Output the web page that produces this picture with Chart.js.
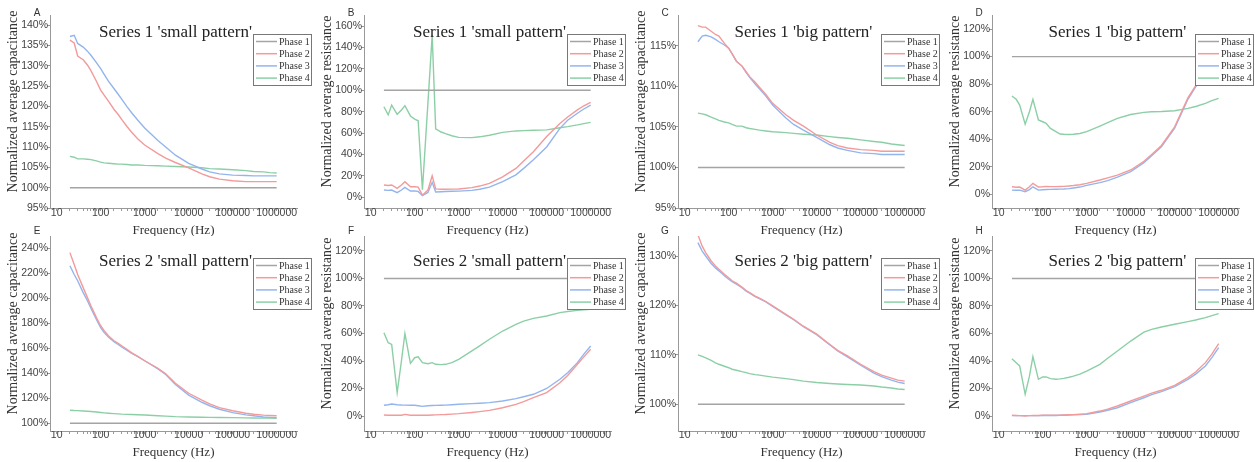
<!DOCTYPE html>
<html>
<head>
<meta charset="utf-8">
<script src="https://cdn.jsdelivr.net/npm/chart.js@4.4.1/dist/chart.umd.min.js"></script>
<style>
  body { margin: 0; background: #fff; width: 1255px; height: 462px; overflow: hidden; position: relative; }
  canvas { position: absolute; }
</style>
</head>
<body>
<canvas id="cA" width="314" height="236" style="left:0;top:0"></canvas>
<canvas id="cB" width="314" height="236" style="left:314px;top:0"></canvas>
<canvas id="cC" width="314" height="236" style="left:628px;top:0"></canvas>
<canvas id="cD" width="313" height="236" style="left:942px;top:0"></canvas>
<canvas id="cE" width="314" height="236" style="left:0;top:226px"></canvas>
<canvas id="cF" width="314" height="236" style="left:314px;top:226px"></canvas>
<canvas id="cG" width="314" height="236" style="left:628px;top:226px"></canvas>
<canvas id="cH" width="313" height="236" style="left:942px;top:226px"></canvas>
<script>
// frequencies of the sweep (Hz)
const freq = [20, 25, 30, 40, 50, 60, 80, 100, 120, 150, 200, 250, 300, 400, 500, 700,
  1000, 2000, 3000, 5000, 10000, 20000, 30000, 50000, 100000, 200000, 300000, 500000, 700000, 1000000];
const xTicks = [10, 100, 1000, 10000, 100000, 1000000];
const phaseNames = ["Phase 1", "Phase 2", "Phase 3", "Phase 4"];
const phaseColors = ["#a4a4a4", "#f39a9a", "#93b5ee", "#8ccfa6"];

// phase 1 is the reference (100 %)
const phase1 = [100, 100, 100, 100, 100, 100, 100, 100, 100, 100, 100, 100, 100, 100, 100,
  100, 100, 100, 100, 100, 100, 100, 100, 100, 100, 100, 100, 100, 100, 100];

// A - series 1 small pattern, capacitance
const a2 = [136.3, 135.6, 132.4, 131.5, 130.2, 128.8, 126.2, 124.0, 122.8, 121.3, 119.3, 118.0, 116.8, 115.0, 113.7,
  112.0, 110.5, 108.4, 107.3, 106.2, 104.9, 103.4, 102.7, 102.1, 101.7, 101.5, 101.5, 101.5, 101.5, 101.5];
const a3 = [137.2, 137.5, 135.5, 134.6, 133.6, 132.6, 130.8, 129.3, 127.9, 126.2, 124.4, 123.0, 121.8, 119.9, 118.5,
  116.6, 114.7, 111.6, 110.0, 108.0, 106.0, 104.6, 103.9, 103.4, 103.1, 103.0, 102.9, 102.9, 102.9, 102.9];
const a4 = [107.7, 107.5, 107.1, 107.1, 107.0, 106.9, 106.6, 106.3, 106.1, 106.0, 105.9, 105.8, 105.8, 105.7, 105.6,
  105.6, 105.5, 105.4, 105.3, 105.2, 105.1, 104.9, 104.7, 104.6, 104.4, 104.2, 104.0, 103.9, 103.7, 103.6];
// B - series 1 small pattern, resistance
const b2 = [11.5, 11, 11.5, 8.4, 11.5, 14.6, 9.9, 9.9, 9.5, 2, 6.8, 20, 7.8, 7.5, 7.5,
  7.6, 7.8, 9, 10.5, 13, 19, 27, 34, 42.6, 56.7, 69, 75, 81.6, 85.5, 88.7];
const b3 = [6.8, 6.5, 6.8, 4.3, 6.8, 9.3, 5.9, 5.9, 5.5, 1.5, 4.5, 14, 5, 5.2, 5.4,
  5.6, 5.8, 6.5, 7.5, 9.5, 14.6, 21, 27, 35, 47, 64.4, 72, 78.5, 82.5, 86];
const b4 = [84.6, 77, 86.2, 77.5, 81.5, 85.6, 76, 73, 71.5, 7, 88, 151.5, 64, 61, 59.5,
  57.5, 56, 55.7, 56.5, 58, 60.7, 62, 62.3, 62.6, 63, 65, 66, 67.6, 68.8, 70];
// C - series 1 big pattern, capacitance
const c2 = [117.5, 117.3, 117.3, 116.8, 116.4, 116.2, 115.3, 114.7, 114.0, 113.1, 112.5, 111.8, 111.2, 110.5, 109.9,
  109.0, 107.9, 106.5, 105.8, 105.1, 104.0, 103.1, 102.7, 102.4, 102.2, 102.1, 102.0, 102.0, 102.0, 102.0];
const c3 = [115.5, 116.2, 116.3, 116.1, 115.8, 115.5, 115.1, 114.7, 114.0, 113.1, 112.5, 111.7, 111.1, 110.3, 109.7,
  108.8, 107.7, 106.1, 105.3, 104.6, 103.7, 102.8, 102.4, 102.1, 101.8, 101.7, 101.6, 101.6, 101.6, 101.6];
const c4 = [106.7, 106.6, 106.5, 106.2, 106.0, 105.8, 105.6, 105.5, 105.3, 105.1, 105.1, 104.9, 104.8, 104.7, 104.6,
  104.5, 104.4, 104.3, 104.2, 104.1, 104.0, 103.8, 103.7, 103.6, 103.4, 103.2, 103.1, 102.9, 102.8, 102.7];
// D - series 1 big pattern, resistance
const d2 = [5.5, 5.2, 5.3, 3.1, 5.5, 8, 5.3, 5.5, 5.8, 5.6, 5.6, 5.7, 5.8, 6.1, 6.4,
  7.0, 8.0, 10.4, 12, 14, 17.7, 24, 29, 35.5, 49, 70, 79, 88, 92, 95];
const d3 = [3.1, 3, 3.1, 1.9, 3.5, 5.5, 3.1, 3.3, 3.5, 3.6, 3.7, 3.8, 3.9, 4.2, 4.6,
  5.3, 6.5, 8.5, 10, 12.5, 16.5, 23, 28, 34.5, 48, 69, 78, 87, 91, 94];
const d4 = [71.4, 69, 64.8, 51, 60, 69, 54, 52.7, 51.5, 47.9, 45.5, 43.8, 43.6, 43.5, 43.6,
  44.2, 45.5, 49.6, 52, 55.2, 58, 59.5, 60, 60.2, 60.7, 62.4, 63.8, 66, 68, 69.7];
// E - series 2 small pattern, capacitance
const e2 = [236.5, 227, 219, 208.5, 200.5, 194, 184.5, 178, 174, 170, 166, 164, 162, 159, 156.5,
  153.5, 150, 144, 139.5, 132, 124, 118.5, 115.5, 112.5, 110, 108, 107.2, 106.5, 106.2, 106];
const e3 = [226, 219, 214, 204.5, 198, 192, 183, 176.5, 172.5, 169, 165.3, 163, 161, 158.3, 156,
  153.2, 150, 143.5, 139, 131, 122.5, 116.8, 114, 111.2, 108.5, 106.7, 106, 105, 104.7, 104.5];
const e4 = [110.4, 110.2, 110.1, 109.8, 109.6, 109.4, 109, 108.6, 108.3, 108.0, 107.7, 107.5, 107.3, 107.1, 107,
  106.8, 106.6, 106, 105.7, 105.3, 105, 104.8, 104.7, 104.6, 104.5, 104.3, 104.2, 104.1, 104.1, 104];
// F - series 2 small pattern, resistance
const f2 = [0.7, 0.6, 0.6, 0.5, 0.6, 1.2, 0.6, 0.5, 0.5, 0.5, 0.6, 0.7, 0.8, 1.0, 1.1,
  1.4, 1.7, 2.6, 3.2, 4.1, 6, 8.5, 10.5, 13.3, 17, 24.2, 29.5, 37.6, 43, 48.5];
const f3 = [7.8, 8.2, 8.7, 8.2, 8, 7.9, 7.8, 7.8, 7.5, 7, 7.5, 7.6, 7.7, 7.8, 7.9,
  8.2, 8.5, 9, 9.3, 9.7, 10.9, 12.6, 14, 15.8, 20, 26.7, 31.5, 38.8, 45, 50.9];
const f4 = [60.6, 53.3, 52, 17, 40, 60, 38.3, 42.4, 43, 38.8, 38, 38.8, 37.6, 37.4, 37.6,
  38.8, 41.2, 47.3, 51, 55.8, 61.8, 66.7, 69, 71, 72.7, 75.2, 76, 76.8, 77.2, 77.6];
// G - series 2 big pattern, capacitance
const g2 = [134.3, 132, 130.7, 129, 128, 127.3, 126.3, 125.6, 125, 124.5, 123.7, 123, 122.6, 121.9, 121.5,
  120.8, 119.9, 118.2, 117.2, 115.8, 114.2, 112.1, 110.9, 109.8, 108.1, 106.6, 105.9, 105.3, 104.9, 104.7];
const g3 = [132.7, 131, 130, 128.5, 127.6, 127, 126, 125.3, 124.8, 124.3, 123.6, 122.9, 122.5, 121.8, 121.4,
  120.7, 119.8, 118.1, 117.1, 115.7, 114.1, 112, 110.8, 109.6, 107.9, 106.3, 105.6, 104.9, 104.5, 104.2];
const g4 = [110, 109.7, 109.4, 108.9, 108.4, 108.1, 107.7, 107.4, 107.1, 106.9, 106.6, 106.4, 106.2, 106.0, 105.9,
  105.7, 105.5, 105.2, 105.0, 104.7, 104.4, 104.2, 104.1, 104.0, 103.9, 103.7, 103.5, 103.3, 103.1, 103.0];
// H - series 2 big pattern, resistance
const h2 = [0.5, 0.4, 0.3, 0, 0.3, 0.4, 0.4, 0.5, 0.5, 0.5, 0.6, 0.6, 0.7, 0.9, 1,
  1.3, 1.7, 3.6, 5, 7.3, 10.9, 14.5, 16.7, 18.7, 22.3, 27.9, 32, 38.8, 45, 52.6];
const h3 = [0.3, 0.3, 0.3, 0.3, 0.3, 0.3, 0.3, 0.4, 0.4, 0.4, 0.4, 0.5, 0.5, 0.7, 0.8,
  1, 1.2, 2.9, 4.2, 6, 9.7, 13.3, 15.5, 17.7, 21.3, 26.7, 30.5, 36.4, 42.5, 49.7];
const h4 = [41.7, 38.8, 36.4, 15.8, 29, 43.2, 26.7, 28.4, 28.4, 27.2, 26.7, 27, 27.4, 28.2, 29,
  30.5, 32.7, 37.6, 42, 47.3, 54.5, 61, 63, 64.7, 66.7, 68.6, 69.8, 71.5, 73, 74.4];

// y tick labels (percent)
const ticksA = [95, 100, 105, 110, 115, 120, 125, 130, 135, 140];
const ticksB = [0, 20, 40, 60, 80, 100, 120, 140, 160];
const ticksC = [95, 100, 105, 110, 115];
const ticksD = [0, 20, 40, 60, 80, 100, 120];
const ticksE = [100, 120, 140, 160, 180, 200, 220, 240];
const ticksF = [0, 20, 40, 60, 80, 100, 120];
const ticksG = [100, 110, 120, 130];
const ticksH = [0, 20, 40, 60, 80, 100, 120];

const capTitle = "Normalized average capacitance";
const resTitle = "Normalized average resistance";

const panels = [
  { id: "cA", letter: "A", title: "Series 1 'small pattern'", ytitle: capTitle, min: 95, max: 142.5, ticks: ticksA, series: [phase1, a2, a3, a4], row: 0 },
  { id: "cB", letter: "B", title: "Series 1 'small pattern'", ytitle: resTitle, min: -10, max: 170.3, ticks: ticksB, series: [phase1, b2, b3, b4], row: 0 },
  { id: "cC", letter: "C", title: "Series 1 'big pattern'", ytitle: capTitle, min: 95, max: 118.8, ticks: ticksC, series: [phase1, c2, c3, c4], row: 0 },
  { id: "cD", letter: "D", title: "Series 1 'big pattern'", ytitle: resTitle, min: -9.9, max: 130.2, ticks: ticksD, series: [phase1, d2, d3, d4], row: 0 },
  { id: "cE", letter: "E", title: "Series 2 'small pattern'", ytitle: capTitle, min: 93.8, max: 249.8, ticks: ticksE, series: [phase1, e2, e3, e4], row: 1 },
  { id: "cF", letter: "F", title: "Series 2 'small pattern'", ytitle: resTitle, min: -10.9, max: 130.9, ticks: ticksF, series: [phase1, f2, f3, f4], row: 1 },
  { id: "cG", letter: "G", title: "Series 2 'big pattern'", ytitle: capTitle, min: 94.6, max: 134.05, ticks: ticksG, series: [phase1, g2, g3, g4], row: 1 },
  { id: "cH", letter: "H", title: "Series 2 'big pattern'", ytitle: resTitle, min: -10.9, max: 130.9, ticks: ticksH, series: [phase1, h2, h3, h4], row: 1 }
];

// minor log ticks on the x axis
const xAll = [];
xTicks.forEach((d, i) => {
  xAll.push(d);
  if (i < xTicks.length - 1) for (let k = 2; k <= 9; k++) xAll.push(k * d);
});
xAll.push(2000000);

const serif = '"Liberation Serif", "Times New Roman", serif';
const sans = '"Liberation Sans", Arial, sans-serif';

// letter, title inside plot, rotated y title and boxed legend
const panelDeco = {
  id: "panelDeco",
  afterDraw(chart, args, o) {
    const { ctx, chartArea: ca } = chart;
    ctx.save();
    ctx.textAlign = "center";
    ctx.textBaseline = "middle";
    ctx.fillStyle = "#333";
    ctx.font = "10px " + sans;
    ctx.fillText(o.letter, 37, o.letterY);

    ctx.fillStyle = "#222";
    ctx.font = "17px " + serif;
    ctx.fillText(o.title, (ca.left + ca.right) / 2 + 2, ca.top + o.titleDy);

    ctx.save();
    ctx.translate(13, (ca.top + ca.bottom) / 2 - 10);
    ctx.rotate(-Math.PI / 2);
    ctx.fillStyle = "#333";
    ctx.font = "14px " + serif;
    ctx.fillText(o.ytitle, 0, 0);
    ctx.restore();

    const bx = ca.right - 44, by = ca.top + o.legendDy, bw = 58, bh = 51;
    ctx.fillStyle = "#fff";
    ctx.fillRect(bx, by, bw, bh);
    ctx.strokeStyle = "#777";
    ctx.lineWidth = 1;
    ctx.strokeRect(bx + 0.5, by + 0.5, bw, bh);
    ctx.font = "10px " + serif;
    ctx.textAlign = "left";
    chart.data.datasets.forEach((ds, i) => {
      const y = by + 7.5 + i * 12.2;
      ctx.strokeStyle = ds.borderColor;
      ctx.lineWidth = 1.5;
      ctx.beginPath();
      ctx.moveTo(bx + 3, y);
      ctx.lineTo(bx + 24, y);
      ctx.stroke();
      ctx.fillStyle = "#333";
      ctx.fillText(ds.label, bx + 26, y + 0.5);
    });
    ctx.restore();
  }
};

panels.forEach((p) => {
  const canvas = document.getElementById(p.id);
  const top = p.row === 0 ? 15 : 10;
  const xh = p.row === 0 ? 28 : 31;
  new Chart(canvas, {
    type: "line",
    data: {
      datasets: p.series.map((vals, i) => ({
        label: phaseNames[i],
        data: vals.map((v, j) => ({ x: freq[j], y: v })),
        borderColor: phaseColors[i],
        borderWidth: 1.4,
        pointRadius: 0,
        tension: 0,
        fill: false
      }))
    },
    options: {
      responsive: false,
      animation: false,
      events: [],
      layout: { padding: { left: 0, right: canvas.width - 297, top: top, bottom: 0 } },
      plugins: {
        legend: { display: false },
        tooltip: { enabled: false },
        panelDeco: {
          letter: p.letter, title: p.title, ytitle: p.ytitle,
          letterY: p.row === 0 ? 13 : 5,
          titleDy: p.row === 0 ? 18 : 26,
          legendDy: p.row === 0 ? 19 : 22
        }
      },
      scales: {
        x: {
          type: "logarithmic",
          min: 7.05,
          max: 2.9e6,
          afterBuildTicks: (s) => { s.ticks = xAll.map((v) => ({ value: v })); },
          afterFit: (s) => { s.height = xh; },
          ticks: {
            autoSkip: false,
            maxRotation: 0,
            padding: p.row === 0 ? -4 : -5,
            color: "#444",
            font: { family: sans, size: 10.5 },
            callback: (v) => (xTicks.includes(v) ? String(v) : "")
          },
          grid: { drawOnChartArea: false, tickLength: 3, color: "#999" },
          border: { color: "#999" },
          title: {
            display: true,
            text: "Frequency (Hz)",
            color: "#333",
            font: { family: serif, size: 13 },
            padding: { top: 0, bottom: p.row === 0 ? -2.8 : 1.5 }
          }
        },
        y: {
          min: p.min,
          max: p.max,
          afterBuildTicks: (s) => { s.ticks = p.ticks.map((v) => ({ value: v })); },
          afterFit: (s) => { s.width = 50; },
          ticks: {
            padding: -1,
            color: "#444",
            font: { family: sans, size: 10.5 },
            callback: (v) => v + "%"
          },
          grid: { drawOnChartArea: false, tickLength: 3, color: "#999" },
          border: { color: "#999" }
        }
      }
    },
    plugins: [panelDeco]
  });
});
</script>
</body>
</html>
